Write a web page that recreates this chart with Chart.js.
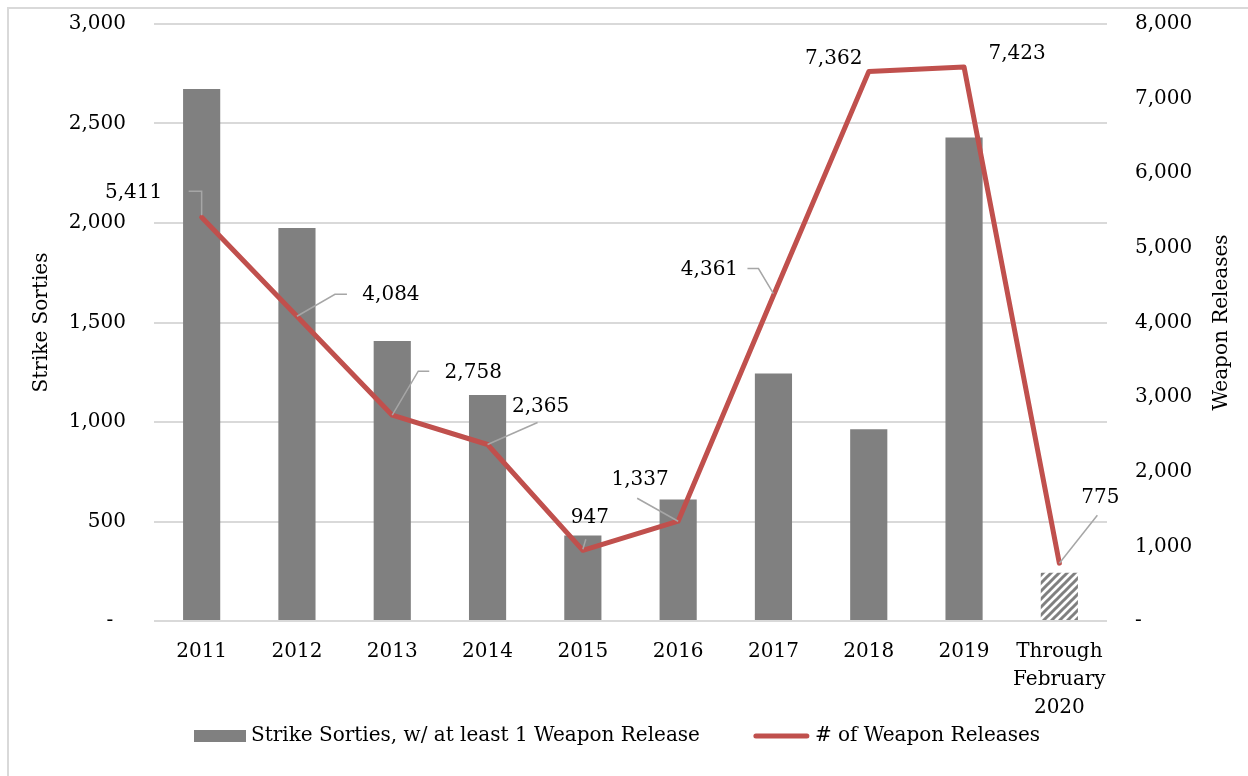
<!DOCTYPE html>
<html lang="en">
<head>
    <meta charset="UTF-8">
    <title>Strike Sorties and Weapon Releases</title>
    <script src="https://cdn.jsdelivr.net/npm/chart.js"></script>
    <style>
        html, body {
            margin: 0;
            padding: 0;
            background: #fff;
            overflow: hidden;
        }
        .frame {
            position: absolute;
            left: 7px;
            top: 7px;
            width: 1400px;
            height: 900px;
            border-left: 2px solid #d9d9d9;
            border-top: 2px solid #d9d9d9;
        }
        .chart-container {
            position: absolute;
            left: 0;
            top: 0;
            width: 1248px;
            height: 776px;
        }
    </style>
</head>
<body>
    <div class="frame"></div>
    <div class="chart-container">
        <canvas id="sortiesChart"></canvas>
    </div>

    <script>
        const years = ['2011', '2012', '2013', '2014', '2015', '2016', '2017', '2018', '2019', ['Through', 'February', '2020']];
        const strikeSorties = [2673, 1975, 1407, 1136, 430, 611, 1244, 963, 2430, 243];
        const weaponReleases = [5411, 4084, 2758, 2365, 947, 1337, 4361, 7362, 7423, 775];

        const barLabel = 'Strike Sorties, w/ at least 1 Weapon Release';
        const lineLabel = '# of Weapon Releases';
        const leftTitle = 'Strike Sorties';
        const rightTitle = 'Weapon Releases';

        const FONT = 'DejaVu Serif';
        const GRAY = '#808080';
        const RED = '#C0504D';

        // where each value label sits relative to its point, and its leader line
        const labelPlacement = [
            { dx: -68, dy: -24, leader: [[0, -2], [0, -26], [-13, -26]] },
            { dx: 94, dy: -21, leader: [[0, 0], [38, -22], [50, -22]] },
            { dx: 81, dy: -42, leader: [[0, 0], [26, -44], [37, -44]] },
            { dx: 53, dy: -38, leader: [[0, 0], [50, -22]] },
            { dx: 7, dy: -33, leader: [[0, -1], [3, -11]] },
            { dx: -38, dy: -41, leader: [[0, 0], [-41, -23]] },
            { dx: -64, dy: -26, leader: [[0, -2], [-15, -27], [-26, -27]] },
            { dx: -35, dy: -13, leader: null },
            { dx: 53, dy: -13, leader: null },
            { dx: 41, dy: -65, leader: [[0, 0], [38, -48]] }
        ];

        // diagonal hatch for the partial year
        function makeHatch() {
            const c = document.createElement('canvas');
            c.width = 8;
            c.height = 8;
            const g = c.getContext('2d');
            g.fillStyle = '#fff';
            g.fillRect(0, 0, 8, 8);
            g.strokeStyle = GRAY;
            g.lineWidth = 3;
            g.beginPath();
            g.moveTo(0, 8); g.lineTo(8, 0);
            g.moveTo(-2, 2); g.lineTo(2, -2);
            g.moveTo(6, 10); g.lineTo(10, 6);
            g.stroke();
            return g.createPattern(c, 'repeat');
        }
        const hatch = makeHatch();
        const barColors = strikeSorties.map((v, i) => i === strikeSorties.length - 1 ? hatch : GRAY);

        const valueLabels = {
            id: 'valueLabels',
            afterDatasetsDraw(chart) {
                const ctx = chart.ctx;
                const meta = chart.getDatasetMeta(1);
                ctx.save();
                meta.data.forEach((pt, i) => {
                    const p = labelPlacement[i];
                    if (p.leader) {
                        ctx.strokeStyle = '#a6a6a6';
                        ctx.lineWidth = 1.5;
                        ctx.beginPath();
                        p.leader.forEach(([lx, ly], k) => {
                            if (k === 0) ctx.moveTo(pt.x + lx, pt.y + ly);
                            else ctx.lineTo(pt.x + lx, pt.y + ly);
                        });
                        ctx.stroke();
                    }
                    ctx.fillStyle = '#000';
                    ctx.font = '20px "' + FONT + '"';
                    ctx.textAlign = 'center';
                    ctx.textBaseline = 'middle';
                    ctx.fillText(weaponReleases[i].toLocaleString('en-US'), pt.x + p.dx, pt.y + p.dy);
                });
                ctx.restore();
            }
        };

        // right axis title reads bottom-to-top like the left one
        const rightAxisTitle = {
            id: 'rightAxisTitle',
            afterDraw(chart) {
                const ctx = chart.ctx;
                const area = chart.chartArea;
                ctx.save();
                ctx.translate(1222, (area.top + area.bottom) / 2);
                ctx.rotate(-Math.PI / 2);
                ctx.fillStyle = '#000';
                ctx.font = '20px "' + FONT + '"';
                ctx.textAlign = 'center';
                ctx.textBaseline = 'middle';
                ctx.fillText(rightTitle, 0, 0);
                ctx.restore();
            }
        };

        // legend row under the axis: grey swatch, red line sample
        const bottomLegend = {
            id: 'bottomLegend',
            afterDraw(chart) {
                const ctx = chart.ctx;
                const y = 736;
                ctx.save();
                ctx.font = '20px "' + FONT + '"';
                ctx.textBaseline = 'middle';
                ctx.textAlign = 'left';
                const w1 = ctx.measureText(barLabel).width;
                const w2 = ctx.measureText(lineLabel).width;
                const total = 52 + 5 + w1 + 54 + 55 + 6 + w2;
                let x = 617 - total / 2;
                ctx.fillStyle = GRAY;
                ctx.fillRect(x, y - 6, 52, 12);
                x += 57;
                ctx.fillStyle = '#000';
                ctx.fillText(barLabel, x, y);
                x += w1 + 54;
                ctx.strokeStyle = RED;
                ctx.lineWidth = 5;
                ctx.lineCap = 'round';
                ctx.beginPath();
                ctx.moveTo(x + 2, y);
                ctx.lineTo(x + 53, y);
                ctx.stroke();
                x += 61;
                ctx.fillText(lineLabel, x, y);
                ctx.restore();
            }
        };

        const ctx = document.getElementById('sortiesChart').getContext('2d');
        new Chart(ctx, {
            type: 'bar',
            data: {
                labels: years,
                datasets: [
                    {
                        type: 'bar',
                        label: barLabel,
                        data: strikeSorties,
                        backgroundColor: barColors,
                        yAxisID: 'y',
                        barPercentage: 0.39,
                        categoryPercentage: 1,
                        order: 1
                    },
                    {
                        type: 'line',
                        label: lineLabel,
                        data: weaponReleases,
                        borderColor: RED,
                        backgroundColor: RED,
                        borderWidth: 5,
                        pointRadius: 0,
                        tension: 0,
                        borderJoinStyle: 'round',
                        borderCapStyle: 'round',
                        yAxisID: 'y1',
                        order: 0
                    }
                ]
            },
            options: {
                responsive: true,
                maintainAspectRatio: false,
                animation: false,
                layout: {
                    padding: { top: 24, left: 0, right: 0, bottom: 55 }
                },
                plugins: {
                    tooltip: { enabled: false },
                    legend: { display: false }
                },
                scales: {
                    x: {
                        grid: { display: false, drawTicks: false },
                        border: { display: false },
                        ticks: {
                            color: '#000',
                            padding: 17,
                            maxRotation: 0,
                            autoSkip: false,
                            font: { family: FONT, size: 20, lineHeight: 1.4 }
                        },
                        afterFit: scale => { scale.height = 100; }
                    },
                    y: {
                        position: 'left',
                        min: 0,
                        max: 3000,
                        ticks: {
                            stepSize: 500,
                            padding: 0,
                            color: '#000',
                            font: { family: FONT, size: 20 },
                            callback: v => v === 0 ? '-  ' : v.toLocaleString('en-US')
                        },
                        grid: { color: '#d9d9d9', lineWidth: 2, drawTicks: true, tickLength: 28, tickColor: 'rgba(0,0,0,0)' },
                        border: { display: false },
                        title: {
                            display: true,
                            text: leftTitle,
                            color: '#000',
                            font: { family: FONT, size: 20 },
                            padding: { top: 30, bottom: 0 }
                        },
                        afterFit: scale => { scale.width = 154; }
                    },
                    y1: {
                        position: 'right',
                        min: 0,
                        max: 8000,
                        ticks: {
                            stepSize: 1000,
                            padding: 0,
                            color: '#000',
                            font: { family: FONT, size: 20 },
                            callback: v => v === 0 ? '-' : v.toLocaleString('en-US')
                        },
                        grid: { display: false, drawTicks: true, tickLength: 28 },
                        border: { display: false },
                        afterFit: scale => { scale.width = 141; }
                    }
                }
            },
            plugins: [valueLabels, rightAxisTitle, bottomLegend]
        });
    </script>
</body>
</html>
